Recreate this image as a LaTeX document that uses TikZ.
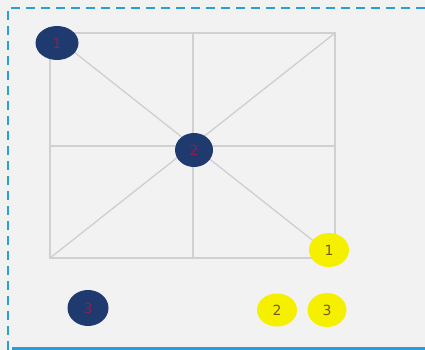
\documentclass[tikz,border=0pt]{standalone}
\usepackage{fontspec}
\setmainfont{DejaVu Sans}
\definecolor{bgc}{HTML}{F2F2F2}
\definecolor{framec}{HTML}{2A9FD6}
\definecolor{gridc}{HTML}{D0D0D0}
\definecolor{navy}{HTML}{1E3A6E}
\definecolor{navytxt}{HTML}{8A2050}
\definecolor{yel}{HTML}{F4F000}
\definecolor{yeltxt}{HTML}{7A5A10}
\tikzset{
  gridline/.style={draw=gridc, line width=1.4pt},
  navydot/.style={ellipse, fill=navy, minimum width=40pt, minimum height=33pt, inner sep=0pt, text=navytxt, font=\fontsize{14}{14}\selectfont},
  yeldot/.style={ellipse, fill=yel, minimum width=40pt, minimum height=34pt, inner sep=0pt, text=yeltxt, font=\fontsize{14}{14}\selectfont},
}
\usetikzlibrary{shapes.geometric}
\begin{document}
\begin{tikzpicture}[x=1pt,y=-1pt]
\useasboundingbox (0,0) rectangle (425,350);
\fill[bgc] (0,0) rectangle (425,350);
\draw[framec, line width=2pt, dash pattern=on 9pt off 6pt] (440,8) -- (8,8) -- (8,350);
\draw[framec, line width=2.4pt] (12,348.5) -- (425,348.5);
% grid
\coordinate (tl) at (50,33);
\coordinate (tr) at (335,33);
\coordinate (bl) at (50,258);
\coordinate (br) at (335,258);
\coordinate (tm) at (193,33);
\coordinate (bm) at (193,258);
\coordinate (ml) at (50,146);
\coordinate (mr) at (335,146);
\draw[gridline] (tl) rectangle (br);
\draw[gridline] (tm) -- (bm);
\draw[gridline] (ml) -- (mr);
\draw[gridline] (tl) -- (br);
\draw[gridline] (tr) -- (bl);
% dots
\node[navydot, minimum width=43pt, minimum height=34pt] (n1) at (57,43) {1};
\node[navydot, minimum width=38pt, minimum height=34pt] (n2) at (194,150) {2};
\node[navydot, minimum width=41pt, minimum height=36pt] (n3) at (88,308) {3};
\node[yeldot] (y1) at (329,250) {1};
\node[yeldot, minimum height=33pt] (y2) at (277,310) {2};
\node[yeldot, minimum width=39pt, minimum height=34pt] (y3) at (327,310) {3};
\end{tikzpicture}
\end{document}
